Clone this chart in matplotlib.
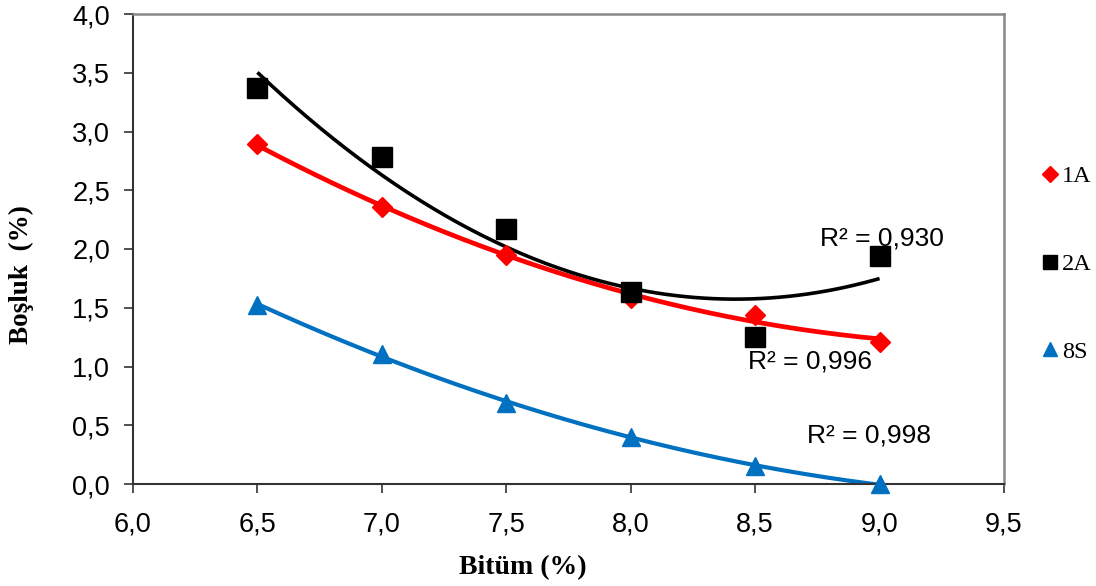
import matplotlib
matplotlib.use("Agg")
import matplotlib.pyplot as plt
import numpy as np

bitum = [6.5, 7.0, 7.5, 8.0, 8.5, 9.0]
s1A = [2.89, 2.36, 1.95, 1.58, 1.44, 1.21]
s2A = [3.37, 2.78, 2.17, 1.63, 1.25, 1.94]
s8S = [1.52, 1.11, 0.69, 0.40, 0.15, 0.00]
series_names = ["1A", "2A", "8S"]
r2_labels = ["R² = 0,996", "R² = 0,930", "R² = 0,998"]
xticks = [6.0, 6.5, 7.0, 7.5, 8.0, 8.5, 9.0, 9.5]
yticks = [0.0, 0.5, 1.0, 1.5, 2.0, 2.5, 3.0, 3.5, 4.0]

fig = plt.figure(figsize=(10.96, 5.86), dpi=100)
ax = fig.add_axes([133/1096, 1-484/586, (1004-133)/1096, (484-14)/586])

styles = [
    dict(color="#ff0000", marker="D", ms=10, lw=3.4),
    dict(color="#000000", marker="s", ms=14, lw=2.6),
    dict(color="#0070c0", marker="^", ms=13, lw=3.0),
]
xs = np.linspace(6.5, 9.0, 200)
handles = []
for ys, st, name in zip([s1A, s2A, s8S], styles, series_names):
    coef = np.polyfit(bitum, ys, 2)
    ax.plot(xs, np.polyval(coef, xs), color=st["color"], lw=st["lw"], zorder=2,
            solid_capstyle="butt")
    h, = ax.plot(bitum, ys, linestyle="none", marker=st["marker"], ms=st["ms"],
                 color=st["color"], mec=st["color"], zorder=3, clip_on=False, label=name)
    handles.append(h)

ax.set_xlim(6.0, 9.5)
ax.set_ylim(0.0, 4.0)
ax.set_xticks(xticks)
ax.set_yticks(yticks)
fmt = lambda v: f"{v:.1f}".replace(".", ",")
tickfont = {"family": "Liberation Sans", "size": 19.5}
ax.set_xticklabels([fmt(v) for v in xticks], fontdict=tickfont)
ax.set_yticklabels([fmt(v) for v in yticks], fontdict=tickfont)
ax.tick_params(axis="both", direction="out", length=6.5, width=1.2,
               color="#333333")
ax.tick_params(axis="x", pad=13)
ax.tick_params(axis="y", pad=10)
for sp in ["left", "bottom"]:
    ax.spines[sp].set_color("#333333")
    ax.spines[sp].set_linewidth(1.5)
for sp in ["top", "right"]:
    ax.spines[sp].set_color("#888888")
    ax.spines[sp].set_linewidth(1.8)

ax.set_xlabel("Bitüm (%)", fontfamily="Liberation Serif", fontweight="bold", fontsize=20)
ax.set_ylabel("Boşluk  (%)", fontfamily="Liberation Serif", fontweight="bold", fontsize=19.5)
ax.xaxis.set_label_coords((523-133)/871, (484-555)/470)
ax.yaxis.set_label_coords((34-133)/871, (484-275)/470)

txt = dict(fontfamily="Liberation Sans", fontsize=19, color="#000000")
ax.text(8.76, 2.09, r2_labels[1], va="center", ha="left", **txt)
ax.text(8.47, 1.04, r2_labels[0], va="center", ha="left", **txt)
ax.text(8.71, 0.41, r2_labels[2], va="center", ha="left", **txt)

leg = fig.legend(handles=[
    plt.Line2D([], [], ls="none", marker="D", ms=8, color="#ff0000"),
    plt.Line2D([], [], ls="none", marker="s", ms=10, color="#000000"),
    plt.Line2D([], [], ls="none", marker="^", ms=10, color="#0070c0")],
    labels=series_names, loc="center left", bbox_to_anchor=(1021/1096, 1-264/586),
    frameon=False, handlelength=0.6, handletextpad=0.2, labelspacing=2.7,
    prop={"family": "Liberation Serif", "size": 17.5})

fig.savefig("out.png", dpi=100)
